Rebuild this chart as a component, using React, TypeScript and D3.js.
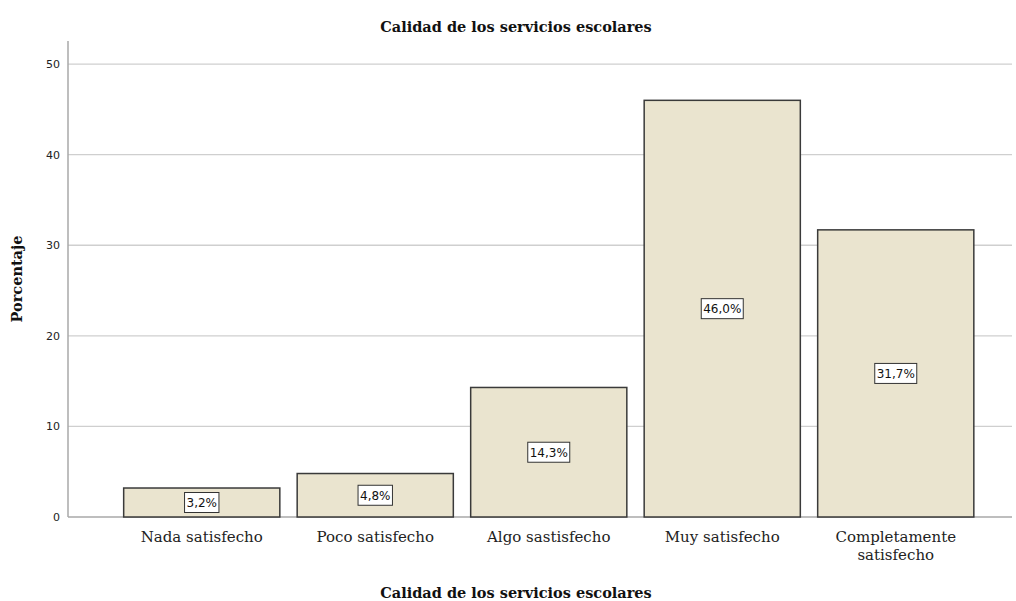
import React from "react";
import * as d3 from "d3";

const categories = ["Nada satisfecho", "Poco satisfecho", "Algo sastisfecho", "Muy satisfecho", "Completamente satisfecho"];
const categoryLines = [["Nada satisfecho"], ["Poco satisfecho"], ["Algo sastisfecho"], ["Muy satisfecho"], ["Completamente", "satisfecho"]];
const values = [3.2, 4.8, 14.3, 46.0, 31.7];
const valueLabels = ["3,2%", "4,8%", "14,3%", "46,0%", "31,7%"];
const yTicks = [0, 10, 20, 30, 40, 50];

const W = 1016, H = 601;
const plotLeft = 68, plotRight = 1012, plotTop = 41, plotBottom = 517;

export default function App() {
  const y = d3.scaleLinear().domain([0, 52.55]).range([plotBottom, plotTop]);
  const x = d3.scaleBand<string>().domain(categories).range([115, 982.5]).paddingInner(0.1).paddingOuter(0.05);
  const serif = "'DejaVu Serif', serif";
  const sans = "'DejaVu Sans', sans-serif";
  return (
    <svg width={W} height={H} style={{ position: "absolute", left: 0, top: 0, background: "#fff" }}>
      <rect x={0} y={0} width={W} height={H} fill="#fff" />
      <text x={516} y={32} textAnchor="middle" fontFamily={serif} fontWeight="bold" fontSize={14.5} fill="#111">Calidad de los servicios escolares</text>
      {yTicks.map(t => (
        <g key={t}>
          {t > 0 && <line x1={plotLeft} x2={plotRight} y1={y(t)} y2={y(t)} stroke="#cfcfcf" strokeWidth={1.3} />}
          <text x={60} y={y(t) + 4} textAnchor="end" fontFamily={sans} fontSize={11} fill="#222">{t}</text>
        </g>
      ))}
      <line x1={plotLeft} x2={plotRight} y1={plotBottom} y2={plotBottom} stroke="#a8a8a8" strokeWidth={1.3} />
      <line x1={plotLeft} x2={plotLeft} y1={plotTop} y2={plotBottom} stroke="#a8a8a8" strokeWidth={1.5} />
      {categories.map((c, i) => {
        const x0 = x(c)!;
        const bw = x.bandwidth();
        const yTop = y(values[i]);
        const cy = (yTop + plotBottom) / 2;
        const lw = valueLabels[i].length * 7.6 + 4;
        return (
          <g key={c}>
            <rect x={x0} y={yTop} width={bw} height={plotBottom - yTop} fill="#eae4cf" stroke="#3a3a3a" strokeWidth={1.5} />
            <rect x={x0 + bw / 2 - lw / 2} y={cy - 10} width={lw} height={20} fill="#fff" stroke="#333" strokeWidth={1} />
            <text x={x0 + bw / 2} y={cy + 4.5} textAnchor="middle" fontFamily={sans} fontSize={12} fill="#111">{valueLabels[i]}</text>
            {categoryLines[i].map((ln, j) => (
              <text key={j} x={x0 + bw / 2} y={542 + j * 18} textAnchor="middle" fontFamily={serif} fontSize={15} fill="#222">{ln}</text>
            ))}
          </g>
        );
      })}
      <text x={516} y={598} textAnchor="middle" fontFamily={serif} fontWeight="bold" fontSize={14.5} fill="#111">Calidad de los servicios escolares</text>
      <text transform={`translate(22,${(plotTop + plotBottom) / 2}) rotate(-90)`} textAnchor="middle" fontFamily={serif} fontWeight="bold" fontSize={14.5} fill="#111">Porcentaje</text>
    </svg>
  );
}
